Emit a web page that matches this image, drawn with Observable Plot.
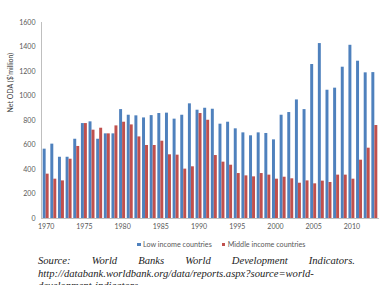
<!DOCTYPE html>
<html><head><meta charset="utf-8">
<script src="https://cdn.jsdelivr.net/npm/d3@7"></script>
<script src="https://cdn.jsdelivr.net/npm/@observablehq/plot@0.6"></script>
<style>
body{margin:0;background:#fff;width:380px;height:285px;overflow:hidden;position:relative;font-family:Lato,"Open Sans",sans-serif;}
#chart{position:absolute;top:0;left:0;}
#legend{position:absolute;top:240px;left:137px;font-size:7.2px;color:#595959;white-space:nowrap;line-height:10px;}
#legend span.sw{display:inline-block;width:3.5px;height:3.5px;margin-right:2.5px;vertical-align:middle;position:relative;top:-0.5px;}
#legend span.item{margin-right:10px;}
#caption{position:absolute;top:255px;left:38px;width:317px;font-family:"Liberation Serif","DejaVu Serif",serif;font-style:italic;font-size:10.6px;line-height:12.6px;color:#222;text-align:justify;text-align-last:left;}
</style></head><body>
<div id="chart"></div>
<div id="legend"></div>
<div id="caption">Source: World Banks World Development Indicators. http://databank.worldbank.org/data/reports.aspx?source=world-development-indicators</div>
<script>
const years = [1970,1971,1972,1973,1974,1975,1976,1977,1978,1979,1980,1981,1982,1983,1984,1985,1986,1987,1988,1989,1990,1991,1992,1993,1994,1995,1996,1997,1998,1999,2000,2001,2002,2003,2004,2005,2006,2007,2008,2009,2010,2011,2012,2013];
const lowIncome = [566,607,500,500,647,775,789,647,691,691,889,843,838,821,840,857,860,811,843,936,884,900,892,770,786,732,699,675,699,694,642,843,865,968,889,1257,1428,1047,1064,1235,1414,1284,1189,1191];
const middleIncome = [362,321,307,484,588,775,721,737,691,756,786,764,666,596,596,631,520,517,403,422,857,802,514,460,435,367,348,340,367,354,321,337,324,288,307,283,305,294,354,354,321,476,574,759];
const seriesNames = ["Low income countries", "Middle income countries"];
const seriesColors = ["#4F81BD", "#C0504D"];
const xTickYears = [1970,1975,1980,1985,1990,1995,2000,2005,2010];
const yTicks = [0,200,400,600,800,1000,1200,1400,1600];
const yLabel = "Net ODA ($'million)";

const low = years.map((y, i) => ({year: y, value: lowIncome[i]}));
const mid = years.map((y, i) => ({year: y, value: middleIncome[i]}));

const chart = Plot.plot({
  width: 380,
  height: 234,
  marginLeft: 41,
  marginRight: 1,
  marginTop: 22,
  marginBottom: 16,
  style: {fontFamily: "Lato, 'Open Sans', sans-serif", fontSize: "7px", color: "#595959", background: "#fff"},
  x: {type: "band", domain: years, padding: 0.22, round: false},
  y: {domain: [0, 1600]},
  marks: [
    Plot.barY(low, {x: "year", y: "value", fill: seriesColors[0], insetRight: 3, insetLeft: 0}),
    Plot.barY(mid, {x: "year", y: "value", fill: seriesColors[1], insetLeft: 3, insetRight: 0}),
    Plot.ruleY([0], {stroke: "#bfbfbf"}),
    Plot.frame({anchor: "left", stroke: "#bfbfbf"}),
    Plot.axisY({ticks: yTicks, tickSize: 0, tickPadding: 6, label: null, tickFormat: d => String(d)}),
    Plot.axisX({ticks: xTickYears, tickSize: 0, tickPadding: 6, label: null, tickFormat: d => String(d)}),
    Plot.text([yLabel], {frameAnchor: "left", rotate: -90, dx: -31, dy: -8, fill: "#404040", fontSize: 7})
  ]
});
document.getElementById("chart").appendChild(chart);

const legend = document.getElementById("legend");
seriesNames.forEach((name, i) => {
  const item = document.createElement("span");
  item.className = "item";
  const sw = document.createElement("span");
  sw.className = "sw";
  sw.style.background = seriesColors[i];
  item.appendChild(sw);
  item.appendChild(document.createTextNode(name));
  legend.appendChild(item);
});
</script>
</body></html>
